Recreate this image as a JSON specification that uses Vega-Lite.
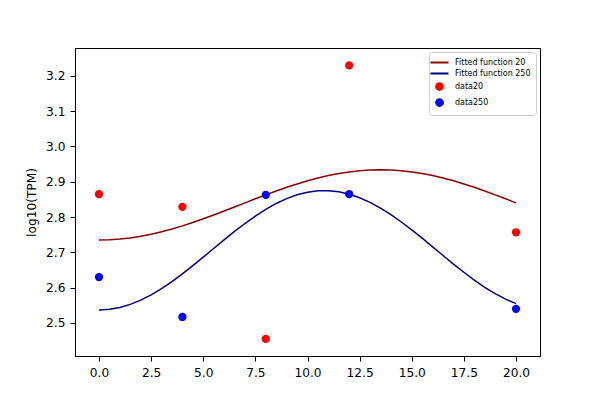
{
  "$schema": "https://vega.github.io/schema/vega-lite/v6.json",
  "autosize": {"type": "none"},
  "padding": {"left": 75, "top": 48, "right": 60, "bottom": 44},
  "width": 465,
  "height": 308,
  "background": "white",
  "datasets": {
    "fits": [
      {"x": 0, "y": 2.735, "series": "Fitted function 20"},
      {"x": 0.5, "y": 2.7357, "series": "Fitted function 20"},
      {"x": 1, "y": 2.7377, "series": "Fitted function 20"},
      {"x": 1.5, "y": 2.741, "series": "Fitted function 20"},
      {"x": 2, "y": 2.7456, "series": "Fitted function 20"},
      {"x": 2.5, "y": 2.7514, "series": "Fitted function 20"},
      {"x": 3, "y": 2.7583, "series": "Fitted function 20"},
      {"x": 3.5, "y": 2.7662, "series": "Fitted function 20"},
      {"x": 4, "y": 2.7751, "series": "Fitted function 20"},
      {"x": 4.5, "y": 2.7848, "series": "Fitted function 20"},
      {"x": 5, "y": 2.7951, "series": "Fitted function 20"},
      {"x": 5.5, "y": 2.806, "series": "Fitted function 20"},
      {"x": 6, "y": 2.8172, "series": "Fitted function 20"},
      {"x": 6.5, "y": 2.8287, "series": "Fitted function 20"},
      {"x": 7, "y": 2.8403, "series": "Fitted function 20"},
      {"x": 7.5, "y": 2.8518, "series": "Fitted function 20"},
      {"x": 8, "y": 2.863, "series": "Fitted function 20"},
      {"x": 8.5, "y": 2.8739, "series": "Fitted function 20"},
      {"x": 9, "y": 2.8843, "series": "Fitted function 20"},
      {"x": 9.5, "y": 2.8939, "series": "Fitted function 20"},
      {"x": 10, "y": 2.9028, "series": "Fitted function 20"},
      {"x": 10.5, "y": 2.9107, "series": "Fitted function 20"},
      {"x": 11, "y": 2.9176, "series": "Fitted function 20"},
      {"x": 11.5, "y": 2.9234, "series": "Fitted function 20"},
      {"x": 12, "y": 2.928, "series": "Fitted function 20"},
      {"x": 12.5, "y": 2.9313, "series": "Fitted function 20"},
      {"x": 13, "y": 2.9333, "series": "Fitted function 20"},
      {"x": 13.5, "y": 2.934, "series": "Fitted function 20"},
      {"x": 14, "y": 2.9333, "series": "Fitted function 20"},
      {"x": 14.5, "y": 2.9313, "series": "Fitted function 20"},
      {"x": 15, "y": 2.928, "series": "Fitted function 20"},
      {"x": 15.5, "y": 2.9234, "series": "Fitted function 20"},
      {"x": 16, "y": 2.9176, "series": "Fitted function 20"},
      {"x": 16.5, "y": 2.9107, "series": "Fitted function 20"},
      {"x": 17, "y": 2.9028, "series": "Fitted function 20"},
      {"x": 17.5, "y": 2.8939, "series": "Fitted function 20"},
      {"x": 18, "y": 2.8843, "series": "Fitted function 20"},
      {"x": 18.5, "y": 2.8739, "series": "Fitted function 20"},
      {"x": 19, "y": 2.863, "series": "Fitted function 20"},
      {"x": 19.5, "y": 2.8518, "series": "Fitted function 20"},
      {"x": 20, "y": 2.8403, "series": "Fitted function 20"},
      {"x": 0, "y": 2.537, "series": "Fitted function 250"},
      {"x": 0.5, "y": 2.5388, "series": "Fitted function 250"},
      {"x": 1, "y": 2.5441, "series": "Fitted function 250"},
      {"x": 1.5, "y": 2.5528, "series": "Fitted function 250"},
      {"x": 2, "y": 2.5648, "series": "Fitted function 250"},
      {"x": 2.5, "y": 2.5798, "series": "Fitted function 250"},
      {"x": 3, "y": 2.5974, "series": "Fitted function 250"},
      {"x": 3.5, "y": 2.6173, "series": "Fitted function 250"},
      {"x": 4, "y": 2.6391, "series": "Fitted function 250"},
      {"x": 4.5, "y": 2.6623, "series": "Fitted function 250"},
      {"x": 5, "y": 2.6864, "series": "Fitted function 250"},
      {"x": 5.5, "y": 2.7109, "series": "Fitted function 250"},
      {"x": 6, "y": 2.7353, "series": "Fitted function 250"},
      {"x": 6.5, "y": 2.7593, "series": "Fitted function 250"},
      {"x": 7, "y": 2.7818, "series": "Fitted function 250"},
      {"x": 7.5, "y": 2.8029, "series": "Fitted function 250"},
      {"x": 8, "y": 2.822, "series": "Fitted function 250"},
      {"x": 8.5, "y": 2.8386, "series": "Fitted function 250"},
      {"x": 9, "y": 2.8524, "series": "Fitted function 250"},
      {"x": 9.5, "y": 2.8631, "series": "Fitted function 250"},
      {"x": 10, "y": 2.8704, "series": "Fitted function 250"},
      {"x": 10.5, "y": 2.8744, "series": "Fitted function 250"},
      {"x": 11, "y": 2.8746, "series": "Fitted function 250"},
      {"x": 11.5, "y": 2.8716, "series": "Fitted function 250"},
      {"x": 12, "y": 2.8648, "series": "Fitted function 250"},
      {"x": 12.5, "y": 2.8549, "series": "Fitted function 250"},
      {"x": 13, "y": 2.8415, "series": "Fitted function 250"},
      {"x": 13.5, "y": 2.8255, "series": "Fitted function 250"},
      {"x": 14, "y": 2.8069, "series": "Fitted function 250"},
      {"x": 14.5, "y": 2.7861, "series": "Fitted function 250"},
      {"x": 15, "y": 2.7638, "series": "Fitted function 250"},
      {"x": 15.5, "y": 2.7402, "series": "Fitted function 250"},
      {"x": 16, "y": 2.7158, "series": "Fitted function 250"},
      {"x": 16.5, "y": 2.6913, "series": "Fitted function 250"},
      {"x": 17, "y": 2.667, "series": "Fitted function 250"},
      {"x": 17.5, "y": 2.6438, "series": "Fitted function 250"},
      {"x": 18, "y": 2.6215, "series": "Fitted function 250"},
      {"x": 18.5, "y": 2.601, "series": "Fitted function 250"},
      {"x": 19, "y": 2.5831, "series": "Fitted function 250"},
      {"x": 19.5, "y": 2.5676, "series": "Fitted function 250"},
      {"x": 20, "y": 2.555, "series": "Fitted function 250"}
    ],
    "obs": [
      {"x": 0, "y": 2.865, "series": "data20"},
      {"x": 4, "y": 2.829, "series": "data20"},
      {"x": 8, "y": 2.455, "series": "data20"},
      {"x": 12, "y": 3.23, "series": "data20"},
      {"x": 20, "y": 2.757, "series": "data20"},
      {"x": 0, "y": 2.63, "series": "data250"},
      {"x": 4, "y": 2.517, "series": "data250"},
      {"x": 8, "y": 2.863, "series": "data250"},
      {"x": 12, "y": 2.865, "series": "data250"},
      {"x": 20, "y": 2.54, "series": "data250"}
    ]
  },
  "encoding": {
    "x": {
      "field": "x",
      "type": "quantitative",
      "title": null,
      "scale": {"domain": [-1.15, 21.15], "nice": false, "zero": false},
      "axis": {"values": [0, 2.5, 5, 7.5, 10, 12.5, 15, 17.5, 20], "format": ".1f", "grid": false}
    },
    "y": {
      "field": "y",
      "type": "quantitative",
      "title": "log10(TPM)",
      "scale": {"domain": [2.4065, 3.279], "nice": false, "zero": false},
      "axis": {"values": [2.5, 2.6, 2.7, 2.8, 2.9, 3.0, 3.1, 3.2], "format": ".1f", "grid": false}
    },
    "color": {
      "field": "series",
      "type": "nominal",
      "scale": {
        "domain": ["Fitted function 20", "Fitted function 250", "data20", "data250"],
        "range": ["#8b0000", "#00008b", "#ff0000", "#0000ff"]
      },
      "legend": {
        "title": null,
        "orient": "top-right",
        "offset": 4,
        "padding": 5,
        "labelFontSize": 8,
        "labelOffset": 10,
        "symbolSize": 81,
        "symbolStrokeWidth": 2,
        "rowPadding": 1,
        "strokeColor": "#cccccc",
        "fillColor": "white",
        "cornerRadius": 3,
        "encode": {
          "symbols": {
            "update": {
              "shape": {"signal": "indexof(datum.value, 'Fitted') === 0 ? 'M-2,0H2' : 'M0.75,0A0.75,0.75,0,1,1,-0.75,0A0.75,0.75,0,1,1,0.75,0Z'"},
              "fill": {"signal": "datum.value === 'data20' ? '#ff0000' : datum.value === 'data250' ? '#0000ff' : 'transparent'"},
              "stroke": {"signal": "datum.value === 'Fitted function 20' ? '#8b0000' : datum.value === 'Fitted function 250' ? '#00008b' : datum.value === 'data20' ? '#ff0000' : '#0000ff'"}
            }
          }
        }
      }
    }
  },
  "layer": [
    {
      "data": {"name": "fits"},
      "mark": {"type": "line", "strokeWidth": 1.5}
    },
    {
      "data": {"name": "obs"},
      "mark": {"type": "point", "shape": "circle", "filled": true, "opacity": 1, "size": 68}
    }
  ],
  "config": {
    "font": "DejaVu Sans",
    "view": {"stroke": "black", "strokeWidth": 1},
    "axis": {
      "domainColor": "black",
      "tickColor": "black",
      "tickSize": 5,
      "labelColor": "black",
      "labelFontSize": 12.2,
      "labelPadding": 5,
      "titleColor": "black",
      "titleFontSize": 12.2,
      "titleFontWeight": "normal",
      "titlePadding": 7
    },
    "legend": {"labelColor": "black", "labelFont": "DejaVu Sans"}
  }
}
